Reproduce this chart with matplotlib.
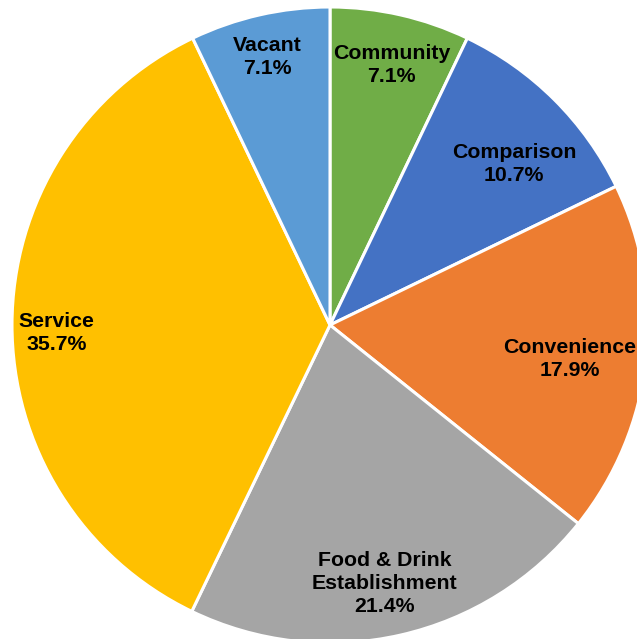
import numpy as np
import matplotlib

matplotlib.use("Agg")
import matplotlib.pyplot as plt

# Share of units by use class
categories = ["Community", "Comparison", "Convenience", "Food & Drink\nEstablishment", "Service", "Vacant"]
shares = [7.1, 10.7, 17.9, 21.4, 35.7, 7.1]
colors = ["#70AD47", "#4472C4", "#ED7D31", "#A5A5A5", "#FFC000", "#5B9BD5"]

# label placement: distance from centre (fraction of radius) and a small
# angular nudge (degrees) away from the wedge's mid-angle
label_radius = [0.84, 0.77, 0.76, 0.83, 0.86, 0.865]
label_nudge = [-0.6, -3.9, -1.6, -0.9, 1.7, 0.4]

W, H = 637, 639
CX, CY, R = 330, 325, 318

fig = plt.figure(figsize=(W / 100, H / 100), dpi=100)
ax = fig.add_axes([0, 0, 1, 1])

wedges, _ = ax.pie(
    shares,
    colors=colors,
    startangle=90,
    counterclock=False,
    radius=1.0,
    wedgeprops={"edgecolor": "white", "linewidth": 2.2},
)

for w, cat, val, rr, nudge in zip(wedges, categories, shares, label_radius, label_nudge):
    mid = np.deg2rad((w.theta1 + w.theta2) / 2 + nudge)
    ax.text(
        rr * np.cos(mid), rr * np.sin(mid),
        f"{cat}\n{val:.1f}%",
        ha="center", va="center",
        fontsize=15.3, fontweight="bold", family="Liberation Sans",
        linespacing=1.28, color="black",
    )

ax.set_xlim(-CX / R, (W - CX) / R)
ax.set_ylim(-(H - CY) / R, CY / R)
ax.set_aspect("equal")
ax.axis("off")

plt.savefig("out.png", dpi=100)
plt.close()
